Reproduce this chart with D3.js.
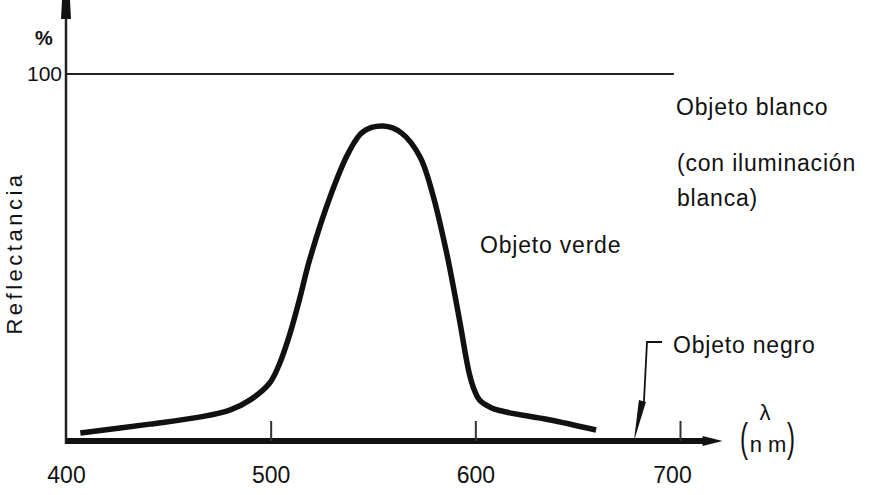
<!DOCTYPE html>
<html>
<head>
<meta charset="utf-8">
<script src="https://cdn.jsdelivr.net/npm/d3@7"></script>
<style>
  html, body { margin: 0; padding: 0; background: #fff; }
  svg { display: block; }
  text { font-family: "Liberation Sans", Arial, sans-serif; fill: #111; }
</style>
</head>
<body>
<svg id="chart" width="880" height="495"></svg>
<script>
// ---- data ----
const wavelengths = [407, 441, 465, 480, 490, 499.5, 504.5, 509.5, 514, 519, 529, 538, 545, 555, 564, 573, 579, 586, 592, 597, 599.5, 602, 608, 615, 636, 659];
const greenReflectance = [2.2, 4.6, 6.5, 8.4, 11.2, 15.8, 21.3, 29.4, 38.4, 49.3, 66.5, 78.5, 84.2, 85.8, 83.9, 77.4, 67.6, 51.2, 33.8, 18.5, 13.9, 11.2, 9, 7.9, 5.8, 3];
const whiteWavelengths = [400, 697];
const whiteReflectance = [100, 100];
const blackWavelengths = [400, 712];
const blackReflectance = [0, 0];
const xTickValues = [400, 500, 600, 700];
const yTickValues = [100];
const blackArrowAt = 677;

// ---- scales ----
const svg = d3.select("#chart");
const x = d3.scaleLinear().domain([400, 700]).range([66, 680]);
const y = d3.scaleLinear().domain([0, 100]).range([441, 74]);
const line = d3.line().x(d => x(d[0])).y(d => y(d[1]));

// white object line (100 %)
svg.append("path")
  .datum(whiteWavelengths.map((w, i) => [w, whiteReflectance[i]]))
  .attr("d", line).attr("fill", "none").attr("stroke", "#222").attr("stroke-width", 2);

// y axis
svg.append("line").attr("x1", x(400)).attr("x2", x(400)).attr("y1", y(0) + 3).attr("y2", 14)
  .attr("stroke", "#222").attr("stroke-width", 2.5);
svg.append("path")
  .attr("d", `M${x(400) - 5},19 L${x(400) - 4},0 L${x(400) + 4},0 L${x(400) + 5},19 Z`)
  .attr("fill", "#111");

// y tick label
const yAxis = d3.axisLeft(y).tickValues(yTickValues).tickSize(0).tickPadding(4);
const gy = svg.append("g").attr("transform", `translate(${x(400)},0)`).call(yAxis);
gy.select(".domain").remove();
gy.selectAll("text").style("font-size", "21px").style("font-family", "Liberation Sans, Arial, sans-serif").attr("fill", "#222");

svg.append("text").attr("x", 44).attr("y", 45).attr("text-anchor", "middle")
  .style("font-size", "20px").style("font-weight", "bold").text("%");

// y axis title
svg.append("text")
  .attr("transform", `translate(22,${253}) rotate(-90)`)
  .attr("text-anchor", "middle")
  .style("font-size", "22px").style("letter-spacing", "3.5px")
  .attr("fill", "#111")
  .text("Reflectancia");

// x axis (black object line)
svg.append("path")
  .datum(blackWavelengths.map((w, i) => [w, blackReflectance[i]]))
  .attr("d", line).attr("fill", "none").attr("stroke", "#111").attr("stroke-width", 6);
const xEnd = x(blackWavelengths[1]);
svg.append("path")
  .attr("d", `M${xEnd - 2},${y(0) - 5} L${xEnd + 18},${y(0)} L${xEnd - 2},${y(0) + 5} Z`)
  .attr("fill", "#111");

// x axis ticks & labels
const xAxis = d3.axisBottom(x).tickValues(xTickValues).tickSizeInner(-20).tickSizeOuter(0).tickPadding(28);
const gx = svg.append("g").attr("transform", `translate(0,${y(0)})`).call(xAxis);
gx.select(".domain").remove();
gx.selectAll(".tick line").attr("stroke", "#333").attr("stroke-width", 2)
  .filter(d => d === 400).remove();
gx.selectAll("text").style("font-size", "23px").style("font-family", "Liberation Sans, Arial, sans-serif")
  .attr("fill", "#111").attr("dy", "0.6em")
  .attr("dx", d => d === 700 ? -8 : 0);

// green object curve
svg.append("path")
  .datum(wavelengths.map((w, i) => [w, greenReflectance[i]]))
  .attr("d", line.curve(d3.curveCatmullRom.alpha(0.5)))
  .attr("fill", "none").attr("stroke", "#111").attr("stroke-width", 5.5).attr("stroke-linecap", "butt");

// annotations
const ann = (tx, ty, s) => svg.append("text").attr("x", tx).attr("y", ty)
  .style("font-size", "23px").style("letter-spacing", "0.8px").text(s);
ann(676, 115, "Objeto blanco");
ann(677, 171, "(con iluminaci\u00f3n");
ann(677, 206, "blanca)");
ann(480, 253, "Objeto verde");
ann(673, 353, "Objeto negro");

// black object leader with arrow
const ax = x(blackArrowAt);
svg.append("path")
  .attr("d", `M662,342 L647,342 L${ax + 11},402`)
  .attr("fill", "none").attr("stroke", "#111").attr("stroke-width", 1.8);
svg.append("path")
  .attr("d", `M${ax + 6},400 L${ax + 13},402 L${ax + 1},${y(0)} Z`)
  .attr("fill", "#111");

// lambda (nm)
svg.append("text").attr("x", 765).attr("y", 420).attr("text-anchor", "middle")
  .style("font-size", "22px").text("\u03bb");
svg.append("text").attr("transform", "translate(740,452) scale(1,1.7)")
  .style("font-size", "24px")
  .text("(");
svg.append("text").attr("x", 768).attr("y", 452).attr("text-anchor", "middle")
  .style("font-size", "22px").text("n m");
svg.append("text").attr("transform", "translate(787,452) scale(1,1.7)")
  .style("font-size", "24px").text(")");
</script>
</body>
</html>
